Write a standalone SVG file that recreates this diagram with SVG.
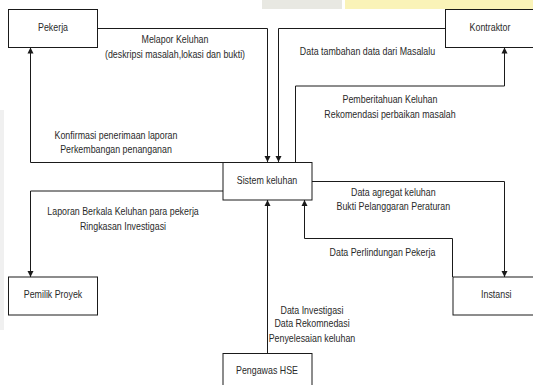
<svg xmlns="http://www.w3.org/2000/svg" width="533" height="385" viewBox="0 0 533 385">
  <style>
    .box { fill: #ffffff; stroke: #1a1a1a; stroke-width: 1; }
    .ln { fill: none; stroke: #1a1a1a; stroke-width: 1; }
    .arr { marker-end: url(#ah); }
    text { font-family: "Liberation Sans", Arial, sans-serif; font-size: 10px; fill: #2a2a2a; text-anchor: middle;
           transform: scaleX(0.885); transform-box: fill-box; transform-origin: center; }
  </style>
  <defs>
    <marker id="ah" viewBox="0 0 10 10" refX="10" refY="5" markerWidth="6" markerHeight="7" markerUnits="userSpaceOnUse" orient="auto">
      <path d="M0,0 L10,5 L0,10 z" fill="#1a1a1a"/>
    </marker>
  </defs>

  <rect x="0" y="0" width="533" height="385" fill="#ffffff"/>
  <g id="watermark">
    <rect x="345" y="0" width="188" height="9" fill="#faf3b8"/>
    <rect x="262" y="0" width="80" height="9" fill="#e8e8e2"/>
    <rect x="0" y="110" width="4" height="220" fill="#f0f0f0"/>
  </g>

  <g id="connectors">
    <polyline class="ln arr" points="97.5,28.5 267.5,28.5 267.5,162"/>
    <polyline class="ln arr" points="445,28.5 278.5,28.5 278.5,162"/>
    <polyline class="ln arr" points="295.5,162 295.5,86 504.5,86 504.5,47.5"/>
    <polyline class="ln arr" points="223,162.5 30.5,162.5 30.5,47.5"/>
    <polyline class="ln arr" points="223,191 30.5,191 30.5,277"/>
    <polyline class="ln arr" points="312,181.5 504.5,181.5 504.5,277"/>
    <polyline class="ln arr" points="452.5,277 452.5,238.5 304.5,238.5 304.5,200"/>
    <polyline class="ln arr" points="267.5,353 267.5,200"/>

    <text x="175" y="43.5">Melapor Keluhan</text>
    <text x="175" y="57.8">(deskripsi masalah,lokasi dan bukti)</text>
    <text x="367.5" y="55.2">Data tambahan data dari Masalalu</text>
    <text x="390" y="103.5">Pemberitahuan Keluhan</text>
    <text x="390" y="117.8">Rekomendasi perbaikan masalah</text>
    <text x="116" y="139.2">Konfirmasi penerimaan laporan</text>
    <text x="116" y="153.5">Perkembangan penanganan</text>
    <text x="393.3" y="196.2">Data agregat keluhan</text>
    <text x="393.3" y="210.5">Bukti Pelanggaran Peraturan</text>
    <text x="123" y="215.5">Laporan Berkala Keluhan para pekerja</text>
    <text x="123" y="229.8">Ringkasan Investigasi</text>
    <text x="382.4" y="255.8">Data Perlindungan Pekerja</text>
    <text x="312" y="314.2">Data Investigasi</text>
    <text x="312" y="327.2">Data Rekomnedasi</text>
    <text x="312" y="341.8">Penyelesaian keluhan</text>
  </g>

  <g id="pekerja">
    <rect class="box" x="8.5" y="9.5" width="89" height="38"/>
    <text x="53" y="31.2">Pekerja</text>
  </g>
  <g id="kontraktor">
    <rect class="box" x="445.5" y="9.5" width="89" height="38"/>
    <text x="490" y="31.2">Kontraktor</text>
  </g>
  <g id="sistem-keluhan">
    <rect class="box" x="223" y="162.5" width="89" height="37.5"/>
    <text x="267" y="183.8">Sistem keluhan</text>
  </g>
  <g id="pemilik-proyek">
    <rect class="box" x="8.5" y="277" width="89" height="38"/>
    <text x="53" y="298.5">Pemilik Proyek</text>
  </g>
  <g id="instansi">
    <rect class="box" x="453" y="277" width="89" height="38"/>
    <text x="496.3" y="298.5">Instansi</text>
  </g>
  <g id="pengawas-hse">
    <rect class="box" x="223" y="353.5" width="89" height="38"/>
    <text x="267" y="374.5">Pengawas HSE</text>
  </g>
</svg>
